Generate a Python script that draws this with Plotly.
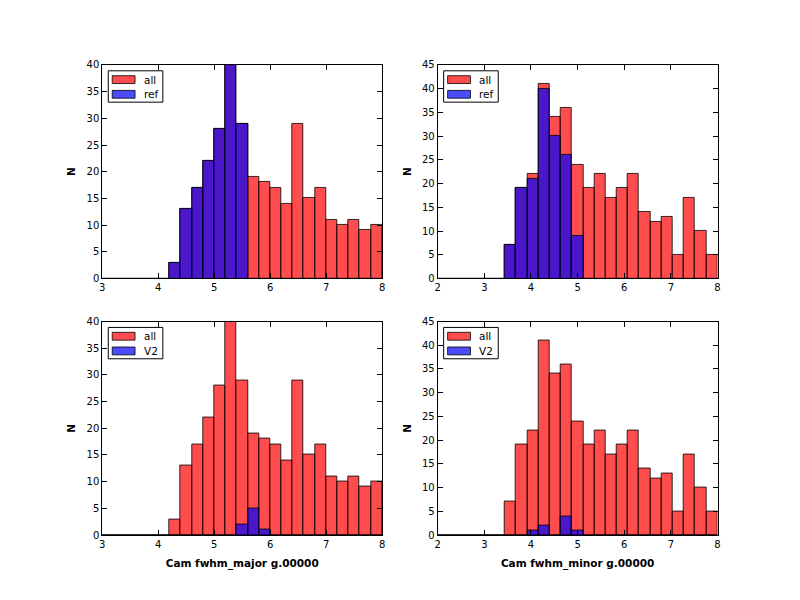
import numpy as np
import plotly.graph_objects as go

# Histogram bin definitions (edges)
major_edges = np.linspace(3.0, 8.0, 26)
minor_edges = np.linspace(2.0, 8.0, 26)

# Counts per bin
major_all = [0, 0, 0, 0, 0, 0, 3, 13, 17, 22, 28, 40, 29, 19, 18, 17, 14, 29, 15, 17, 11, 10, 11, 9, 10]
major_ref = [0, 0, 0, 0, 0, 0, 3, 13, 17, 22, 28, 40, 29, 0, 0, 0, 0, 0, 0, 0, 0, 0, 0, 0, 0]
major_v2 = [0, 0, 0, 0, 0, 0, 0, 0, 0, 0, 0, 0, 2, 5, 1, 0, 0, 0, 0, 0, 0, 0, 0, 0, 0]

minor_all = [0, 0, 0, 0, 0, 0, 7, 19, 22, 41, 34, 36, 24, 19, 22, 17, 19, 22, 14, 12, 13, 5, 17, 10, 5]
minor_ref = [0, 0, 0, 0, 0, 0, 7, 19, 21, 40, 30, 26, 9, 0, 0, 0, 0, 0, 0, 0, 0, 0, 0, 0, 0]
minor_v2 = [0, 0, 0, 0, 0, 0, 0, 0, 1, 2, 0, 4, 1, 0, 0, 0, 0, 0, 0, 0, 0, 0, 0, 0, 0]

x_label_major = "Cam fwhm_major g.00000"
x_label_minor = "Cam fwhm_minor g.00000"
y_label = "N"

RED = "rgba(255,0,0,0.7)"
BLUE = "rgba(0,0,255,0.7)"
EDGE = "rgba(0,0,0,0.8)"
FONT = "DejaVu Sans"

# page body has an 8px margin: figure is 784x584 placed at (8, 8)
OFF = 8
W, H = 800 - 2 * OFF, 600 - 2 * OFF

def px(x):
    return (x - OFF) / W

def py(y):
    return 1 - (y - OFF) / H

fig = go.Figure()

# axes rectangles in window pixels: (left, right, top, bottom)
boxes = {
    "": (100, 382, 60, 278),
    "2": (438, 720, 60, 278),
    "3": (100, 382, 322, 540),
    "4": (438, 720, 322, 540),
}

panels = [
    (major_edges, major_all, major_ref, "ref", ""),
    (minor_edges, minor_all, minor_ref, "ref", "2"),
    (major_edges, major_all, major_v2, "V2", "3"),
    (minor_edges, minor_all, minor_v2, "V2", "4"),
]

shapes = []
annotations = []

for edges, allc, subc, sublab, sfx in panels:
    centers = (edges[:-1] + edges[1:]) / 2
    widths = np.diff(edges)
    for counts, color, name in ((allc, RED, "all"), (subc, BLUE, sublab)):
        fig.add_trace(go.Bar(
            x=centers, y=counts, width=widths, name=name,
            marker=dict(color=color, line=dict(color=EDGE, width=1)),
            xaxis="x" + sfx, yaxis="y" + sfx, showlegend=False,
        ))
    # legend box drawn in the upper-left corner of the panel
    l, r, t, b = boxes[sfx]
    shapes.append(dict(type="rect", xref="paper", yref="paper",
                       x0=px(l + 6), x1=px(l + 61), y0=py(t + 38), y1=py(t + 6),
                       fillcolor="white", line=dict(color="black", width=1), layer="above"))
    for i, (color, name) in enumerate(((RED, "all"), (BLUE, sublab))):
        cy = t + 15 + 15 * i
        shapes.append(dict(type="rect", xref="paper", yref="paper",
                           x0=px(l + 10), x1=px(l + 33), y0=py(cy + 4), y1=py(cy - 4),
                           fillcolor=color, line=dict(color=EDGE, width=1), layer="above"))
        annotations.append(dict(text=name, xref="paper", yref="paper",
                                x=px(l + 40), y=py(cy), xanchor="left", yanchor="middle",
                                showarrow=False, font=dict(family=FONT, size=10.5, color="black")))

def xax(sfx, rng, title=None):
    l, r, t, b = boxes[sfx]
    d = dict(domain=[px(l), px(r)], range=rng, anchor="y" + sfx, dtick=1, tick0=0,
             ticks="inside", ticklen=5, tickcolor="black", mirror="ticks",
             showline=True, linecolor="black", linewidth=1, showgrid=False,
             zeroline=False, tickfont=dict(family=FONT, size=10, color="black"))
    if title:
        d["title"] = dict(text="<b>" + title + "</b>", font=dict(family=FONT, size=10.5, color="black"), standoff=10)
    return d

def yax(sfx, rng):
    l, r, t, b = boxes[sfx]
    return dict(domain=[py(b), py(t)], range=rng, anchor="x" + sfx, dtick=5, tick0=0,
                ticks="inside", ticklen=5, tickcolor="black", mirror="ticks",
                showline=True, linecolor="black", linewidth=1, showgrid=False,
                zeroline=False, tickfont=dict(family=FONT, size=10, color="black"),
                title=dict(text="<b>" + y_label + "</b>", font=dict(family=FONT, size=10.5, color="black"), standoff=8))

fig.update_layout(
    width=W, height=H,
    margin=dict(l=0, r=0, t=0, b=0),
    paper_bgcolor="white", plot_bgcolor="white",
    barmode="overlay", bargap=0,
    showlegend=False,
    xaxis=xax("", [3, 8]),
    yaxis=yax("", [0, 40]),
    xaxis2=xax("2", [2, 8]),
    yaxis2=yax("2", [0, 45]),
    xaxis3=xax("3", [3, 8], x_label_major),
    yaxis3=yax("3", [0, 40]),
    xaxis4=xax("4", [2, 8], x_label_minor),
    yaxis4=yax("4", [0, 45]),
    shapes=shapes,
    annotations=annotations,
)

fig.write_html("out.html")
